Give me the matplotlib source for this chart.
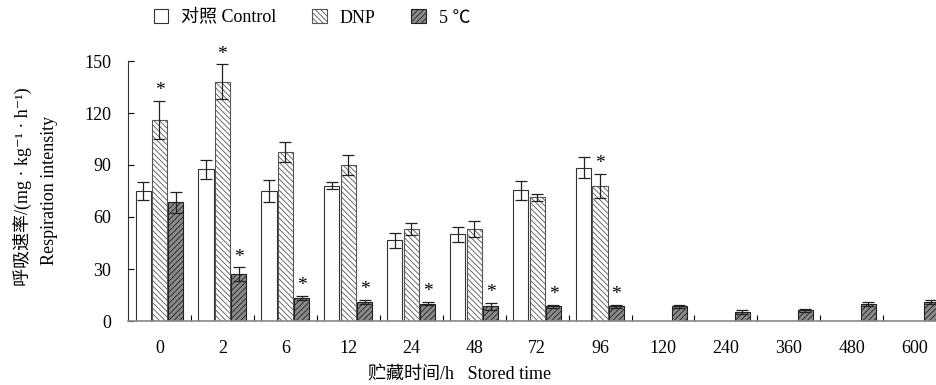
import matplotlib.pyplot as plt
import numpy as np

plt.rcParams['font.family'] = ['Liberation Serif', 'Noto Sans CJK SC', 'DejaVu Sans']
plt.rcParams['hatch.linewidth'] = 0.6

# Data
times = ['0', '2', '6', '12', '24', '48', '72', '96', '120', '240', '360', '480', '600']
control = [75, 87.5, 75, 78, 46.5, 50, 75.5, 88.5]
control_err = [5, 5.5, 6.5, 2, 4.5, 4.5, 5.5, 6]
dnp = [116, 138, 97.5, 90, 53, 53, 71.5, 78]
dnp_err = [11, 10, 5.5, 5.5, 3.5, 4.5, 2, 7]
cold = [68.5, 27, 13.5, 11, 10, 8.5, 8.5, 8.5, 8.5, 5.2, 6.2, 9.6, 10.8]
cold_err = [6, 4, 1.2, 1, 1, 2, 1, 1, 1, 1, 1, 1.2, 1.2]
dnp_star = [0, 1, 7]
cold_star = [1, 2, 3, 4, 5, 6, 7]

x = np.arange(len(times))
w = 0.24
off = 0.26

fig = plt.figure(figsize=(9.37, 3.85), dpi=100)
ax = fig.add_axes([128/937, 1 - 321/385, 1 - 128/937, 260/385])

xc = x[:len(control)]
ax.bar(xc - off, control, w, color='white', edgecolor='#333333', linewidth=0.8, label='对照 Control')
ax.bar(xc, dnp, w, color='white', edgecolor='#555555', hatch='\\\\\\\\\\\\', linewidth=0.8, label='DNP')
ax.bar(x + off, cold, w, color='#8a8a8a', edgecolor='#222222', hatch='//////', linewidth=0.8, label='5 ℃')

ek = dict(fmt='none', ecolor='#222222', elinewidth=0.9, capsize=4, capthick=0.9)
ax.errorbar(xc - off, control, yerr=control_err, **ek)
ax.errorbar(xc, dnp, yerr=dnp_err, **ek)
ax.errorbar(x + off, cold, yerr=cold_err, **ek)

for i in dnp_star:
    ax.text(x[i], dnp[i] + dnp_err[i] + 1, '*', ha='center', va='bottom', fontsize=14)
for i in cold_star:
    ax.text(x[i] + off, cold[i] + cold_err[i] + 1, '*', ha='center', va='bottom', fontsize=14)

ax.set_xlim(-0.5, 12.354)
ax.set_ylim(0, 150)
ax.set_yticks([0, 30, 60, 90, 120, 150])
ax.set_xticks(x)
ax.set_xticklabels(times)
ax.set_xticks(x[:-1] + 0.5, minor=True)
ax.tick_params(axis='x', which='major', length=0, pad=14, labelsize=13)
ax.tick_params(axis='x', which='minor', direction='in', length=4, width=0.8)
ax.tick_params(axis='y', direction='in', length=4, width=0.8, labelsize=13, pad=12)
for s in ['top', 'right']:
    ax.spines[s].set_visible(False)
ax.spines['left'].set_color('#333333')
ax.spines['bottom'].set_color('#888888')
ax.spines['bottom'].set_linewidth(1.2)

fig.text(22/937, 1 - 187/385, '呼吸速率/(mg · kg⁻¹ · h⁻¹)', rotation=90,
         ha='center', va='center', fontsize=13)
fig.text(50/937, 1 - 190/385, 'Respiration intensity', rotation=90,
         ha='center', va='center', fontsize=13)
fig.text(460/937, 1 - 374/385, '贮藏时间/h   Stored time', ha='center', va='center', fontsize=13)

fig.legend(loc='center', bbox_to_anchor=(312/937, 1 - 18/385), ncol=3, frameon=False,
           fontsize=13, handlelength=0.8, handleheight=0.8, handletextpad=0.7, columnspacing=2.0)

fig.savefig('out.png', dpi=100)
